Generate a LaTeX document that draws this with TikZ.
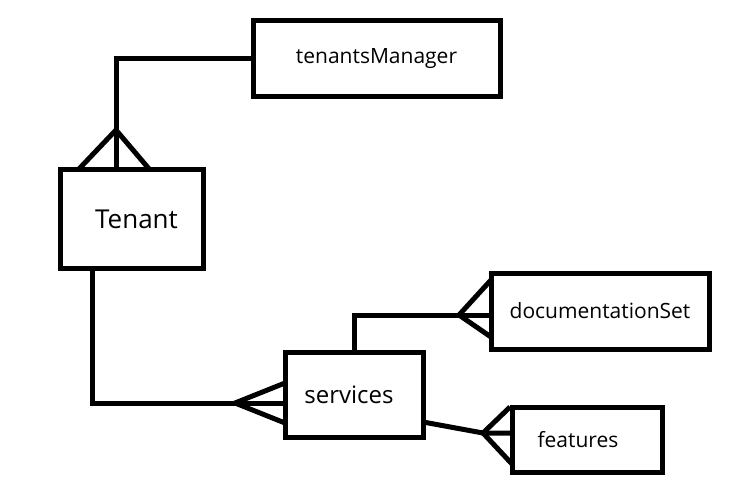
\documentclass[tikz,border=0pt]{standalone}
\usepackage{fontspec}
\setmainfont{Open Sans}

\begin{document}
\begin{tikzpicture}[x=1pt, y=-1pt,
    entity/.style={draw, line width=5pt, inner sep=0pt, outer sep=0pt},
    link/.style={line width=5pt}]
      \useasboundingbox (0,0) rectangle (754,494);
      \node[entity, minimum width=247pt, minimum height=76pt] (tenantsManager) at (376.5, 59) {\fontsize{21}{25}\selectfont tenantsManager};
      \node[entity, minimum width=143pt, minimum height=98pt] (Tenant) at (131.5, 219) {\fontsize{26}{31}\selectfont\hspace{10pt}Tenant};
      \node[entity, minimum width=138pt, minimum height=85pt] (services) at (354, 394.5) {\fontsize{24}{29}\selectfont services\kern10pt};
      \node[entity, minimum width=218pt, minimum height=76pt] (documentationSet) at (600, 311) {\fontsize{21}{25}\selectfont documentationSet};
      \node[entity, minimum width=150pt, minimum height=65pt] (features) at (587, 439.5) {\fontsize{21}{25}\selectfont features\kern18pt};
      \coordinate (manager crow) at (116, 130);
      \coordinate (manager left) at (78, 170);
      \coordinate (manager right) at (150, 170);
      \coordinate (services crow) at (235, 403);
      \coordinate (services up) at (285, 383);
      \coordinate (services down) at (285, 423);
      \coordinate (docs crow) at (459, 315);
      \coordinate (docs up) at (491, 280);
      \coordinate (docs down) at (491, 337);
      \coordinate (features crow) at (483, 433);
      \coordinate (features up) at (510, 407);
      \coordinate (features down) at (512, 464);
      \draw[link] (tenantsManager.west) -| (manager crow |- Tenant.north);
      \draw[link] (manager left) -- (manager crow) -- (manager right);
      \draw[link] ([xshift=-39.5pt]Tenant.south) |- (services crow -| services.west);
      \draw[link] (services up) -- (services crow) -- (services down);
      \draw[link] (services.north) |- (docs crow -| documentationSet.west);
      \draw[link] (docs up) -- (docs crow) -- (docs down);
      \draw[link] ([yshift=-27.5pt]services.east) -- (features crow) -- (features crow -| features.west);
      \draw[link] (features up) -- (features crow) -- (features down);
    \end{tikzpicture}
\end{document}
